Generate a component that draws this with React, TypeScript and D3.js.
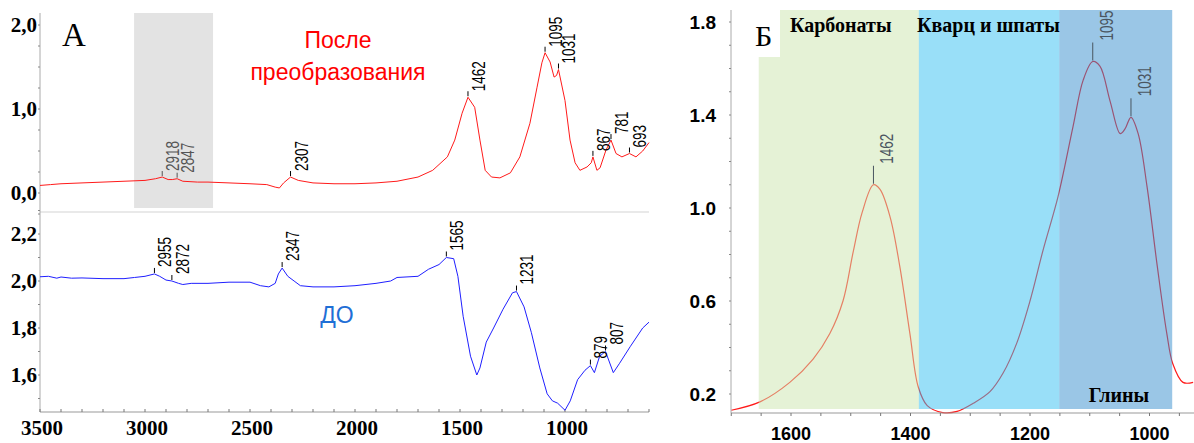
import React from "react";
import * as d3 from "d3";

// Panel A, spectrum after treatment (red)
const afterWave = [3500, 3450, 3400, 3300, 3200, 3100, 3000, 2950, 2918, 2890, 2870, 2847, 2820, 2750, 2700, 2600, 2500, 2420, 2380, 2360, 2340, 2307, 2270, 2200, 2100, 2000, 1900, 1800, 1700, 1630, 1560, 1525, 1490, 1462, 1430, 1405, 1380, 1350, 1310, 1260, 1215, 1167, 1133, 1110, 1095, 1071, 1052, 1040, 1031, 1000, 976, 952, 929, 895, 875, 867, 848, 833, 805, 781, 757, 729, 693, 662, 630, 600];
const afterAbs = [0.09, 0.1, 0.11, 0.12, 0.13, 0.14, 0.15, 0.17, 0.19, 0.16, 0.16, 0.17, 0.14, 0.13, 0.13, 0.12, 0.11, 0.1, 0.07, 0.06, 0.12, 0.19, 0.15, 0.12, 0.11, 0.11, 0.12, 0.14, 0.19, 0.27, 0.43, 0.63, 0.95, 1.14, 1.02, 0.63, 0.27, 0.19, 0.18, 0.24, 0.43, 0.83, 1.26, 1.55, 1.67, 1.56, 1.38, 1.4, 1.47, 1.1, 0.63, 0.36, 0.27, 0.31, 0.36, 0.43, 0.27, 0.3, 0.51, 0.63, 0.47, 0.43, 0.47, 0.43, 0.5, 0.6];
const afterPeaks = [2918, 2847, 2307, 1462, 1095, 1031, 867, 781, 693];
const afterGrayPeaks = [2918, 2847];

// Panel A, spectrum before treatment (blue)
const beforeWave = [3500, 3460, 3420, 3400, 3350, 3300, 3200, 3100, 3050, 3000, 2955, 2930, 2900, 2872, 2840, 2820, 2780, 2700, 2600, 2500, 2450, 2410, 2380, 2365, 2347, 2320, 2290, 2260, 2200, 2100, 2000, 1900, 1830, 1800, 1700, 1650, 1600, 1565, 1530, 1510, 1485, 1450, 1420, 1405, 1375, 1340, 1295, 1250, 1231, 1195, 1160, 1120, 1085, 1060, 1035, 1000, 975, 940, 905, 879, 860, 835, 807, 770, 740, 690, 630, 600];
const beforeAbs = [2.018, 2.02, 2.012, 2.017, 2.012, 2.013, 2.01, 2.01, 2.015, 2.02, 2.03, 2.02, 2.004, 2.0, 1.99, 1.985, 1.99, 1.99, 1.995, 1.995, 1.98, 1.975, 1.99, 2.03, 2.055, 2.02, 2.0, 1.98, 1.975, 1.975, 1.98, 1.99, 2.0, 2.015, 2.02, 2.05, 2.07, 2.1, 2.095, 2.02, 1.85, 1.68, 1.6, 1.63, 1.74, 1.8, 1.88, 1.95, 1.955, 1.89, 1.78, 1.63, 1.52, 1.49, 1.48, 1.45, 1.49, 1.58, 1.62, 1.64, 1.61, 1.68, 1.7, 1.61, 1.65, 1.72, 1.8, 1.825];
const beforePeaks = [2955, 2872, 2347, 1565, 1231, 879, 807];

// Panel B, zoomed spectrum
const zoomWave = [1700, 1652, 1602, 1563, 1535, 1513, 1496, 1481, 1462, 1451, 1434, 1418, 1401, 1387, 1372, 1346, 1322, 1295, 1267, 1245, 1222, 1200, 1178, 1153, 1128, 1111, 1095, 1083, 1066, 1049, 1041, 1031, 1019, 1004, 987, 971, 961, 944, 927];
const zoomAbs = [0.13, 0.166, 0.25, 0.35, 0.46, 0.6, 0.81, 0.98, 1.1, 1.08, 0.96, 0.75, 0.46, 0.23, 0.15, 0.12, 0.125, 0.16, 0.21, 0.29, 0.42, 0.6, 0.82, 1.05, 1.35, 1.55, 1.63, 1.61, 1.46, 1.32, 1.34, 1.39, 1.32, 1.09, 0.75, 0.46, 0.33, 0.25, 0.25];
const zoomPeaks = [1462, 1095, 1031];

const xTicksA = [3500, 3000, 2500, 2000, 1500, 1000];
const yTicksTop = [0, 1, 2];
const yTicksBottom = [1.6, 1.8, 2.0, 2.2];
const shadeA = [3052, 2676];

const xTicksB = [1600, 1400, 1200, 1000];
const yTicksB = [0.2, 0.6, 1.0, 1.4, 1.8];
const bandEdges = [1654, 1386, 1151, 962];
const bandNames = ["Карбонаты", "Кварц и шпаты", "Глины"];
const bandColors = ["#cbe5ad", "#33bff1", "#358dcd"];

const comma = (v: number) => v.toFixed(1).replace(".", ",");
const valueAt = (w: number[], a: number[], x: number) =>
  a[d3.leastIndex(w, (d) => Math.abs(d - x)) as number];

const serif = "'Liberation Serif', 'Times New Roman', serif";
const sans = "'Liberation Sans', Arial, sans-serif";

const PeakLabel = ({ x, y, text, color, gap, lead }: any) => (
  <g>
    <line x1={x} x2={x} y1={y - 1} y2={y - lead} stroke={color} strokeWidth={1} />
    <text
      transform={`translate(${x + 17},${y - gap}) rotate(-90)`}
      fontFamily={sans}
      fontSize={18}
      fill={color}
      textLength={text.length * 7.5}
      lengthAdjust="spacingAndGlyphs"
    >
      {text}
    </text>
  </g>
);

export default function App() {
  // panel A scales
  const xA = d3.scaleLinear().domain([3500, 600]).range([40, 649]);
  const yTop = d3.scaleLinear().domain([0, 2]).range([193, 25]);
  const yBot = d3.scaleLinear().domain([1.6, 2.2]).range([375, 234]);
  // panel B scales
  const xB = d3.scaleLinear().domain([1600, 1400]).range([791, 910.5]);
  const yB = d3.scaleLinear().domain([0.2, 1.8]).range([394, 22]);

  const lineTop = d3.line<number>().x((d, i) => xA(afterWave[i])).y((d) => yTop(d));
  const lineBot = d3.line<number>().x((d, i) => xA(beforeWave[i])).y((d) => yBot(d));
  const lineB = d3
    .line<number>()
    .x((d, i) => xB(zoomWave[i]))
    .y((d) => yB(d))
    .curve(d3.curveCatmullRom.alpha(0.5));

  const minorTop = d3.range(-0.25, 2.01, 0.25);
  const minorBot = d3.range(1.5, 2.31, 0.1);
  const minorXA = d3.range(3500, 599, -100);
  const minorYB = d3.range(0.2, 1.81, 0.1);
  const minorXB = d3.range(1700, 924, -50);

  return (
    <div style={{ position: "absolute", left: 0, top: 0 }}>
      <svg width={1194} height={443} style={{ display: "block" }}>
        <rect width={1194} height={443} fill="#fff" />

        {/* ---------- panel A ---------- */}
        <rect x={xA(shadeA[0])} y={13} width={xA(shadeA[1]) - xA(shadeA[0])} height={195} fill="#e3e3e3" />
        <line x1={40} x2={649} y1={212} y2={212} stroke="#e2e2e2" strokeWidth={1.5} />
        <line x1={40} x2={40} y1={13} y2={412} stroke="#aaa" />
        {minorTop.map((v) => (
          <line key={"mt" + v} x1={38} x2={40} y1={yTop(v)} y2={yTop(v)} stroke="#888" />
        ))}
        {minorBot.map((v) => (
          <line key={"mb" + v} x1={38} x2={40} y1={yBot(v)} y2={yBot(v)} stroke="#888" />
        ))}
        <line x1={40} x2={649} y1={412} y2={412} stroke="#999" />
        {minorXA.map((v) => (
          <line key={"mx" + v} x1={xA(v)} x2={xA(v)} y1={409} y2={412} stroke="#777" />
        ))}
        {yTicksTop.map((v) => (
          <text key={"yt" + v} x={37} y={yTop(v)} dy="0.35em" textAnchor="end" fontFamily={serif} fontWeight="bold" fontSize={21}>
            {comma(v)}
          </text>
        ))}
        {yTicksBottom.map((v) => (
          <text key={"yb" + v} x={37} y={yBot(v)} dy="0.35em" textAnchor="end" fontFamily={serif} fontWeight="bold" fontSize={21}>
            {comma(v)}
          </text>
        ))}
        {xTicksA.map((v) => (
          <text key={"xa" + v} x={xA(v) + 2} y={435} textAnchor="middle" fontFamily={serif} fontWeight="bold" fontSize={21}>
            {v}
          </text>
        ))}

        <path d={lineTop(afterAbs) as string} fill="none" stroke="#ff1a1a" strokeWidth={1} />
        <path d={lineBot(beforeAbs) as string} fill="none" stroke="#1f1fff" strokeWidth={1} />

        {afterPeaks.map((p) => {
          const c = afterGrayPeaks.includes(p) ? "#555" : "#000";
          return <PeakLabel key={"ap" + p} x={xA(p)} y={yTop(valueAt(afterWave, afterAbs, p))} text={String(p)} color={c} gap={6} lead={6} />;
        })}
        {beforePeaks.map((p) => (
          <PeakLabel key={"bp" + p} x={xA(p)} y={yBot(valueAt(beforeWave, beforeAbs, p))} text={String(p)} color="#000" gap={7} lead={6} />
        ))}

        <text x={62} y={46} fontFamily={serif} fontSize={33}>А</text>
        <text x={338} y={48} textAnchor="middle" fontFamily={sans} fontSize={23} fill="#ff0000">После</text>
        <text x={338} y={80} textAnchor="middle" fontFamily={sans} fontSize={23} fill="#ff0000">преобразования</text>
        <text x={337} y={323} textAnchor="middle" fontFamily={sans} fontSize={23} fill="#1f6fd6">ДО</text>

        {/* ---------- panel B ---------- */}
        <path d={lineB(zoomAbs) as string} fill="none" stroke="#ff1a1a" strokeWidth={1.2} />
        {bandNames.map((n, i) => (
          <rect
            key={"band" + n}
            x={xB(bandEdges[i])}
            y={10}
            width={xB(bandEdges[i + 1]) - xB(bandEdges[i])}
            height={399}
            fill={bandColors[i]}
            fillOpacity={0.5}
          />
        ))}
        <rect x={732} y={8} width={48} height={49} fill="#fff" />

        <line x1={731} x2={731} y1={10} y2={413} stroke="#aaa" />
        {minorYB.map((v) => (
          <line key={"myb" + v} x1={729} x2={731} y1={yB(v)} y2={yB(v)} stroke="#888" />
        ))}
        <line x1={731} x2={1194} y1={413} y2={413} stroke="#999" />
        {minorXB.map((v) => (
          <line key={"mxb" + v} x1={xB(v)} x2={xB(v)} y1={413} y2={416} stroke="#777" />
        ))}
        {yTicksB.map((v) => (
          <text key={"yB" + v} x={716} y={yB(v)} dy="0.35em" textAnchor="end" fontFamily={sans} fontWeight="bold" fontSize={19}>
            {v.toFixed(1)}
          </text>
        ))}
        {xTicksB.map((v) => (
          <text key={"xB" + v} x={xB(v)} y={440} textAnchor="middle" fontFamily={sans} fontWeight="bold" fontSize={18}>
            {v}
          </text>
        ))}

        {zoomPeaks.map((p) => {
          const px = xB(p);
          const py = yB(valueAt(zoomWave, zoomAbs, p));
          return (
            <g key={"zp" + p}>
              <line x1={px} x2={px} y1={py - 1} y2={py - 19} stroke="#4a5560" />
              <text
                transform={`translate(${px + 20},${py - 21}) rotate(-90)`}
                fontFamily={sans}
                fontSize={18}
                fill="#4a5560"
                textLength={30}
                lengthAdjust="spacingAndGlyphs"
              >
                {p}
              </text>
            </g>
          );
        })}

        <text x={755} y={46} fontFamily={serif} fontSize={30}>Б</text>
        <text x={790} y={32} fontFamily={serif} fontWeight="bold" fontSize={20}>{bandNames[0]}</text>
        <text x={917} y={32} fontFamily={serif} fontWeight="bold" fontSize={20}>{bandNames[1]}</text>
        <text x={1119} y={402} textAnchor="middle" fontFamily={serif} fontWeight="bold" fontSize={20}>{bandNames[2]}</text>
      </svg>
    </div>
  );
}
